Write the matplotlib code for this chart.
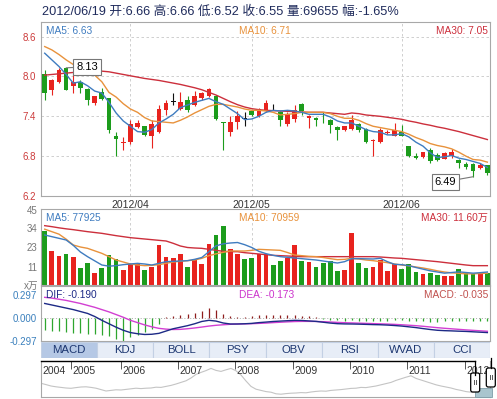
import matplotlib
matplotlib.use("Agg")
import matplotlib.pyplot as plt
from matplotlib.patches import Rectangle, FancyBboxPatch
import numpy as np

plt.rcParams["font.family"] = ["Liberation Sans", "Noto Sans CJK SC", "DejaVu Sans"]

# --- daily bars (yuan / 万股), 2012-03 .. 2012/06/19 ---
quote_date = "2012/06/19"
month_labels = ["2012/04", "2012/05", "2012/06"]
month_first_bar = [12, 29, 50]

open_ = [8.03, 7.79, 7.92, 8.12, 7.85, 7.92, 7.81, 7.60, 7.77, 7.67,
         7.10, 7.00, 7.01, 7.24, 7.25, 7.11, 7.16, 7.49, 7.62, 7.51,
         7.65, 7.57, 7.68, 7.70, 7.71, 7.31, 7.16, 7.31, 7.36, 7.48,
         7.41, 7.48, 7.55, 7.46, 7.28, 7.36, 7.58, 7.37, 7.37, 7.46,
         7.35, 7.24, 7.19, 7.21, 7.29, 7.21, 7.03, 7.02, 7.15, 7.11,
         7.17, 6.95, 6.80, 6.79, 6.90, 6.82, 6.76, 6.80, 6.74, 6.68,
         6.68, 6.62, 6.66]
high = [8.10, 7.96, 8.12, 8.13, 8.03, 7.95, 7.83, 7.71, 7.82, 7.68,
        7.17, 7.09, 7.34, 7.35, 7.26, 7.35, 7.57, 7.65, 7.75, 7.76,
        7.70, 7.78, 7.76, 7.82, 7.72, 7.31, 7.40, 7.48, 7.46, 7.49,
        7.53, 7.65, 7.59, 7.48, 7.46, 7.57, 7.60, 7.42, 7.39, 7.47,
        7.36, 7.26, 7.26, 7.42, 7.30, 7.22, 7.06, 7.22, 7.20, 7.30,
        7.27, 6.96, 6.84, 6.87, 6.93, 6.84, 6.86, 6.91, 6.75, 6.71,
        6.70, 6.70, 6.66]
low = [7.65, 7.72, 7.90, 7.79, 7.75, 7.75, 7.57, 7.57, 7.65, 7.15,
       6.80, 6.90, 6.99, 7.22, 7.10, 6.92, 7.15, 7.42, 7.57, 7.49,
       7.46, 7.55, 7.65, 7.69, 7.35, 6.90, 7.10, 7.21, 7.26, 7.40,
       7.39, 7.46, 7.49, 7.26, 7.25, 7.32, 7.42, 7.22, 7.26, 7.30,
       7.15, 7.05, 7.18, 7.20, 7.17, 7.00, 6.80, 7.00, 7.13, 7.10,
       7.10, 6.79, 6.76, 6.77, 6.70, 6.72, 6.75, 6.77, 6.62, 6.61,
       6.49, 6.60, 6.52]
close = [7.75, 7.95, 8.10, 7.80, 7.92, 7.83, 7.64, 7.70, 7.66, 7.20,
         7.06, 7.02, 7.29, 7.30, 7.12, 7.29, 7.51, 7.60, 7.62, 7.62,
         7.49, 7.70, 7.75, 7.81, 7.36, 7.30, 7.32, 7.41, 7.36, 7.42,
         7.51, 7.60, 7.55, 7.34, 7.44, 7.49, 7.48, 7.41, 7.34, 7.45,
         7.27, 7.19, 7.25, 7.34, 7.19, 7.02, 7.05, 7.19, 7.17, 7.19,
         7.11, 6.80, 6.77, 6.86, 6.72, 6.74, 6.84, 6.87, 6.69, 6.63,
         6.58, 6.67, 6.55]
volume = [32.4, 20.6, 17.4, 18.6, 16.8, 10.4, 13.2, 7.2, 10.4, 18.0,
          15.6, 9.0, 12.4, 12.4, 9.0, 10.8, 24.0, 16.8, 16.4, 18.6,
          10.8, 15.6, 12.6, 24.6, 30.0, 35.4, 21.6, 18.6, 15.6, 16.4,
          18.6, 18.6, 12.0, 14.4, 16.0, 24.0, 14.4, 13.6, 10.8, 13.0,
          14.4, 8.4, 9.0, 31.0, 13.4, 10.4, 10.8, 15.0, 8.4, 12.8,
          9.6, 12.8, 8.0, 6.6, 7.2, 6.0, 5.4, 5.6, 9.6, 7.6,
          6.4, 6.4, 6.9655]
prev_close = 6.66

# moving averages as drawn on the chart
ma5 = [8.35, 8.25, 8.15, 8.03, 7.90, 7.92, 7.86, 7.78, 7.75, 7.61,
       7.45, 7.33, 7.25, 7.17, 7.16, 7.20, 7.30, 7.36, 7.43, 7.53,
       7.57, 7.61, 7.64, 7.67, 7.62, 7.58, 7.51, 7.44, 7.35, 7.36,
       7.40, 7.46, 7.49, 7.48, 7.49, 7.48, 7.46, 7.43, 7.43, 7.43,
       7.39, 7.33, 7.30, 7.30, 7.25, 7.20, 7.17, 7.16, 7.12, 7.12,
       7.14, 7.09, 7.01, 6.95, 6.85, 6.78, 6.79, 6.81, 6.77, 6.75,
       6.72, 6.69, 6.63]
ma10 = [8.45, 8.40, 8.33, 8.25, 8.18, 8.12, 8.06, 8.02, 7.92, 7.76,
        7.69, 7.59, 7.51, 7.46, 7.38, 7.33, 7.32, 7.31, 7.30, 7.34,
        7.39, 7.45, 7.50, 7.55, 7.58, 7.58, 7.56, 7.54, 7.51, 7.49,
        7.49, 7.48, 7.46, 7.42, 7.43, 7.44, 7.46, 7.46, 7.46, 7.46,
        7.44, 7.40, 7.37, 7.37, 7.34, 7.29, 7.25, 7.23, 7.21, 7.19,
        7.17, 7.13, 7.08, 7.04, 6.99, 6.96, 6.94, 6.91, 6.86, 6.80,
        6.75, 6.74, 6.71]
ma30 = [8.02, 8.03, 8.04, 8.05, 8.06, 8.07, 8.08, 8.09, 8.08, 8.07,
        8.05, 8.03, 8.01, 7.99, 7.97, 7.955, 7.94, 7.92, 7.90, 7.88,
        7.855, 7.83, 7.80, 7.76, 7.72, 7.67, 7.62, 7.575, 7.54, 7.515,
        7.50, 7.49, 7.485, 7.48, 7.475, 7.47, 7.465, 7.46, 7.46, 7.46,
        7.45, 7.44, 7.43, 7.45, 7.44, 7.42, 7.41, 7.40, 7.385, 7.37,
        7.355, 7.33, 7.31, 7.285, 7.265, 7.24, 7.22, 7.195, 7.17, 7.14,
        7.11, 7.08, 7.05]

vol_ma5 = [30, 29, 28, 27, 23.8, 19.8, 17, 14.5, 12, 11.3,
           11.6, 12.2, 12.6, 13, 12.6, 12, 13, 14, 14.2, 14.4,
           14.6, 15.4, 16.5, 20, 23.5, 24.7, 25.2, 25.5, 24.2, 22.5,
           20.2, 18.8, 17.8, 17, 16.6, 16.2, 15.8, 15.4, 15, 14.4,
           13.8, 13.2, 14.0, 15.8, 15.8, 15.7, 15.6, 16, 14, 12.4,
           12.2, 11.6, 10.5, 9.5, 8.5, 7.8, 7.1, 7.5, 7.9, 7.5,
           7.1, 7.4, 7.8]
vol_ma10 = [33.5, 32, 30.5, 27.5, 24, 22.8, 22, 20.5, 19, 17,
            15, 13.8, 12.6, 12, 11.6, 11.8, 12.2, 13, 13.8, 14.2,
            14.6, 15, 16, 17.6, 18.7, 19.6, 20.4, 20.4, 20.4, 20.8,
            21.4, 21.2, 21, 20.8, 19.5, 18, 17.6, 17.2, 17, 16.5,
            15.8, 15.2, 15.4, 16, 15.6, 15, 14.6, 14, 13.4, 12.6,
            12, 11.5, 10.8, 10.2, 9.4, 8.5, 7.8, 7.3, 7, 6.7,
            6.7, 6.9, 7.1]
vol_ma30 = [35.6, 35, 34.3, 33.7, 33.2, 32.6, 32, 31.5, 31, 30.3,
            29.6, 29, 28.4, 28, 27.6, 27.2, 26.8, 26.4, 25, 23.4,
            22.5, 22.2, 22, 21.4, 20.8, 20.2, 20, 20, 19.4, 19,
            18.6, 18.2, 17.8, 17.6, 17.4, 17.2, 17, 17, 17, 17,
            17, 17, 17, 17, 17, 17, 17, 16.8, 16.5, 16.2,
            16, 15.6, 15.2, 14.8, 14.4, 14, 13.5, 13, 12.5, 12,
            11.6, 11.6, 11.6]
vol_ma_last = [77925, 70959, 116000]

dif = [0.19, 0.17, 0.15, 0.13, 0.11, 0.085, 0.06, 0.02, -0.03, -0.075,
       -0.12, -0.16, -0.19, -0.205, -0.215, -0.212, -0.20, -0.17, -0.14, -0.12,
       -0.10, -0.075, -0.045, -0.03, -0.04, -0.065, -0.078, -0.078, -0.075, -0.07,
       -0.06, -0.053, -0.045, -0.04, -0.035, -0.03, -0.032, -0.038, -0.044, -0.055,
       -0.066, -0.074, -0.077, -0.078, -0.08, -0.083, -0.086, -0.088, -0.092, -0.098,
       -0.105, -0.115, -0.125, -0.138, -0.15, -0.16, -0.165, -0.168, -0.172, -0.175,
       -0.18, -0.185, -0.190]
dea = [0.27, 0.26, 0.245, 0.23, 0.21, 0.19, 0.165, 0.14, 0.11, 0.08,
       0.045, 0.01, -0.03, -0.06, -0.09, -0.115, -0.135, -0.145, -0.15, -0.148,
       -0.14, -0.13, -0.118, -0.105, -0.095, -0.088, -0.082, -0.078, -0.076, -0.074,
       -0.07, -0.066, -0.06, -0.055, -0.05, -0.046, -0.044, -0.044, -0.045, -0.048,
       -0.052, -0.057, -0.061, -0.064, -0.067, -0.07, -0.073, -0.076, -0.079, -0.083,
       -0.088, -0.094, -0.1, -0.108, -0.117, -0.126, -0.134, -0.141, -0.148, -0.155,
       -0.161, -0.167, -0.173]
macd_hist = [-0.16, -0.165, -0.17, -0.185, -0.193, -0.198, -0.206, -0.21, -0.228, -0.237,
             -0.272, -0.294, -0.25, -0.219, -0.185, -0.14, -0.074, 0.01, 0.02, 0.035,
             0.05, 0.07, 0.09, 0.13, 0.11, 0.05, 0.03, 0.01, 0.015, 0.03,
             0.045, 0.04, 0.045, 0.04, 0.035, 0.04, 0.03, 0.02, 0.01, -0.015,
             -0.025, -0.03, -0.035, -0.03, -0.035, -0.04, -0.04, -0.035, -0.035, -0.03,
             -0.03, -0.04, -0.045, -0.045, -0.05, -0.05, -0.045, -0.04, -0.045, -0.045,
             -0.045, -0.04, -0.035]

price_ticks = [6.2, 6.8, 7.4, 8.0, 8.6]
vol_ticks = [11, 23, 34, 45]
macd_ticks = [-0.297, 0.0, 0.297]
tab_names = ["MACD", "KDJ", "BOLL", "PSY", "OBV", "RSI", "WVAD", "CCI"]

# long-run overview line (2004 - 2012), sampled evenly along the strip
ov_close = [9.35, 8.7, 8.0, 7.6, 7.3, 7.0, 6.85, 7.2, 7.5, 7.6,
            7.3, 6.9, 6.2, 5.5, 5.8, 6.1, 6.0, 6.3, 6.6, 6.9,
            6.7, 6.9, 7.0, 7.4, 7.3, 7.8, 8.3, 9.0, 9.8, 10.6,
            12.0, 13.8, 14.8, 15.7, 16.8, 15.8, 15.3, 16.1, 16.8, 15.6,
            13.5, 10.5, 7.8, 6.4, 5.8, 5.2, 4.9, 4.1, 3.9, 4.2,
            4.4, 4.5, 4.7, 4.6, 5.0, 5.3, 5.5, 5.4, 5.8, 6.0,
            6.2, 6.5, 6.8, 6.9, 7.3, 7.2, 7.6, 8.0, 8.6, 9.2,
            9.8, 10.8, 11.6, 12.4, 13.1, 11.8, 11.0, 10.2, 9.4, 8.6,
            8.0, 7.5, 7.0, 6.3, 5.8, 5.2, 4.9, 5.1, 5.0, 4.9]
year_labels = ["2004", "2005", "2006", "2007", "2008", "2009", "2010", "2011", "2012"]
year_start = [0, 6.06, 16.06, 27.4, 38.7, 50.4, 61.7, 73.1, 84.7]

# --- styling ---
RED, GREEN = "#e8231e", "#1c9c1c"
C_MA5, C_MA10, C_MA30 = "#3f7cc0", "#e8923c", "#cc2f3c"
GRID = "#c8c8c8"
SPINE = "#a8a8a8"
W, H = 497, 399


def rect(x0, y0, x1, y1):
    return [x0 / W, 1 - y1 / H, (x1 - x0) / W, (y1 - y0) / H]


def style_panel(ax):
    for s in ax.spines.values():
        s.set_color(SPINE)
        s.set_linewidth(0.8)
    ax.tick_params(length=0)


def corner_text(ax, xfrac, s, color, ha="left"):
    ax.annotate(s, xy=(xfrac, 1), xycoords="axes fraction", xytext=(0, -9),
                textcoords="offset pixels", ha=ha, va="center", fontsize=7.3,
                color=color)


o = np.array(open_)
c = np.array(close)
hi = np.array(high)
lo = np.array(low)
idx = np.arange(len(c))
xlim = (-0.52, len(c) - 0.63)
rising = (c > o) | ((c == o) & (c >= np.r_[prev_close, c[:-1]]))
candle_col = np.where(c > o, RED, np.where(c < o, GREEN, "#111111"))
vol_col = np.where(rising, RED, GREEN)

fig = plt.figure(figsize=(W / 100, H / 100), dpi=100)

chg = (c[-1] / prev_close - 1) * 100
header = (f"{quote_date} 开:{o[-1]:.2f} 高:{hi[-1]:.2f} 低:{lo[-1]:.2f} "
          f"收:{c[-1]:.2f} 量:{volume[-1] * 10000:.0f} 幅:{chg:.2f}%")
fig.text(42 / W, 1 - 12 / H, header, fontsize=9.15, color="#1f2b5c", va="center")

# --- price panel ---
ax = fig.add_axes(rect(41, 22, 490, 196))
style_panel(ax)
ax.set_xlim(*xlim)
ax.set_ylim(6.2, 8.82)
for t in price_ticks[1:]:
    ax.axhline(t, color=GRID, lw=0.6, ls=(0, (3, 3)), zorder=0)
for m in month_first_bar:
    ax.axvline(m, color=GRID, lw=0.6, ls=(0, (3, 3)), zorder=0)
ax.vlines(idx, lo, hi, colors=candle_col, lw=0.8, zorder=2)
body = np.maximum(np.abs(c - o), 0.012)
ax.bar(idx, body, bottom=np.minimum(o, c), width=0.66, color=candle_col, zorder=3)
ax.plot(idx, ma30, color=C_MA30, lw=1.0, zorder=4)
ax.plot(idx, ma10, color=C_MA10, lw=1.0, zorder=4)
ax.plot(idx, ma5, color=C_MA5, lw=1.0, zorder=4)
ax.set_yticks(price_ticks)
ax.set_yticklabels([f"{t:.1f}" for t in price_ticks], fontsize=7, color="#cc3b3b")
ax.tick_params(axis="y", pad=3.5)
ax.set_xticks(month_first_bar)
ax.set_xticklabels(month_labels, fontsize=7.5, color="#333333")
ax.tick_params(axis="x", pad=3)
corner_text(ax, 0.011, f"MA5: {ma5[-1]:.2f}", C_MA5)
corner_text(ax, 0.44, f"MA10: {ma10[-1]:.2f}", C_MA10)
corner_text(ax, 0.995, f"MA30: {ma30[-1]:.2f}", C_MA30, ha="right")

box = dict(boxstyle="square,pad=0.25", fc="white", ec="#777777", lw=0.8)
line = dict(arrowstyle="-", color="#777777", lw=0.8, shrinkA=0, shrinkB=0)
top_i = int(np.argmax(hi))
bot_i = int(np.argmin(lo))
ax.annotate(f"{hi[top_i]:.2f}", xy=(top_i, hi[top_i]), xytext=(21, 1),
            textcoords="offset pixels", ha="center", va="center", fontsize=8,
            bbox=box, arrowprops=line, zorder=6)
ax.annotate(f"{lo[bot_i]:.2f}", xy=(bot_i, lo[bot_i]), xytext=(-28, -5),
            textcoords="offset pixels", ha="center", va="center", fontsize=8,
            bbox=box, arrowprops=line, zorder=6)

# --- volume panel ---
axv = fig.add_axes(rect(41, 209, 490, 285))
style_panel(axv)
axv.set_xlim(*xlim)
axv.set_ylim(0, 45.6)
for m in month_first_bar:
    axv.axvline(m, color=GRID, lw=0.6, ls=(0, (3, 3)), zorder=0)
axv.bar(idx, volume, width=0.66, color=vol_col, zorder=2)
axv.plot(idx, vol_ma30, color=C_MA30, lw=1.0, zorder=3)
axv.plot(idx, vol_ma10, color=C_MA10, lw=1.0, zorder=3)
axv.plot(idx, vol_ma5, color=C_MA5, lw=1.0, zorder=3)
axv.set_xticks([])
axv.set_yticks(vol_ticks)
axv.set_yticklabels([str(t) for t in vol_ticks], fontsize=7, color="#777777")
axv.tick_params(axis="y", pad=2.5)


def fmt_vol(v):
    return f"{v / 10000:.2f}万" if v >= 100000 else f"{v}"


corner_text(axv, 0.011, f"MA5: {fmt_vol(vol_ma_last[0])}", C_MA5)
corner_text(axv, 0.44, f"MA10: {fmt_vol(vol_ma_last[1])}", C_MA10)
corner_text(axv, 0.995, f"MA30: {fmt_vol(vol_ma_last[2])}", C_MA30, ha="right")
fig.text(31 / W, 1 - 286 / H, "x万", fontsize=7, color="#777777", ha="center", va="center")

# --- MACD panel ---
axm = fig.add_axes(rect(41, 286, 490, 341))
style_panel(axm)
axm.set_xlim(*xlim)
axm.set_ylim(-0.30, 0.418)
axm.axhline(0, color="#aaaaaa", lw=0.7, ls=(0, (1, 2)), zorder=0)
hist = np.array(macd_hist)
axm.vlines(idx, 0, hist, colors=np.where(hist > 0, "#8e1c1c", "#2ea62e"), lw=0.9, zorder=2)
axm.plot(idx, dea, color="#d23fd2", lw=1.0, zorder=3)
axm.plot(idx, dif, color="#1d2a86", lw=1.0, zorder=4)
axm.set_xticks([])
axm.set_yticks(macd_ticks)
axm.set_yticklabels([f"{t:.3f}" for t in macd_ticks], fontsize=7, color="#3b80bd")
axm.tick_params(axis="y", pad=3)
corner_text(axm, 0.011, f"DIF: {dif[-1]:.3f}", "#1d2a86")
corner_text(axm, 0.44, f"DEA: {dea[-1]:.3f}", "#cc33cc")
corner_text(axm, 0.995, f"MACD: {macd_hist[-1]:.3f}", "#c0504d", ha="right")

# --- indicator tabs ---
axt = fig.add_axes(rect(41, 342, 490, 358))
axt.set_xlim(0, len(tab_names))
axt.set_ylim(0, 1)
axt.axis("off")
for k, name in enumerate(tab_names):
    axt.add_patch(Rectangle((k, 0), 1, 1, fc="#b5c8e5" if k == 0 else "#e7edf7",
                            ec="#c3d0e4", lw=0.8))
    axt.text(k + 0.5, 0.48, name, ha="center", va="center", fontsize=8.2,
             color="#1c3670")

# --- overview strip ---
axo = fig.add_axes(rect(41, 361, 490, 397))
for s in axo.spines.values():
    s.set_color(SPINE)
    s.set_linewidth(0.8)
axo.spines["top"].set_visible(False)
axo.set_xlim(0, 89.8)
axo.set_ylim(2.5, 20.5)
axo.plot(np.arange(len(ov_close)), ov_close, color="#c4c4c4", lw=0.8)
axo.set_xticks(year_start)
axo.tick_params(axis="x", direction="in", top=True, bottom=False, labelbottom=False,
                length=6, width=0.7, color="#555555")
axo.set_yticks([])
for yl, ys in zip(year_labels, year_start):
    axo.annotate(yl, xy=(ys, 1), xycoords=("data", "axes fraction"), xytext=(1.5, -10),
                 textcoords="offset pixels", ha="left", va="center", fontsize=7.5,
                 color="#333333")

# range selector handles on top of everything
deco = fig.add_axes([0, 0, 1, 1], zorder=10)
deco.set_xlim(0, W)
deco.set_ylim(H, 0)
deco.axis("off")
deco.plot([41, 474.7], [361, 361], color="black", lw=1.0)
deco.add_patch(Rectangle((474.7, 388), 17, 9, fc="#a9c5ce", ec="#7f9ea8", lw=0.6))
deco.plot([474.7, 474.7], [361, 375], color="black", lw=0.9)
deco.plot([491.3, 491.3], [358, 368], color="black", lw=0.9)
for hx, hy in [(470.7, 373), (486.3, 368)]:
    deco.add_patch(FancyBboxPatch((hx, hy), 9, 19, boxstyle="round,pad=0,rounding_size=2",
                                  fc="white", ec="black", lw=0.9))
    deco.plot([hx + 3.5, hx + 3.5], [hy + 7, hy + 11], color="#555555", lw=0.7)
    deco.plot([hx + 5.5, hx + 5.5], [hy + 7, hy + 11], color="#555555", lw=0.7)

fig.savefig("out.png", dpi=100)
